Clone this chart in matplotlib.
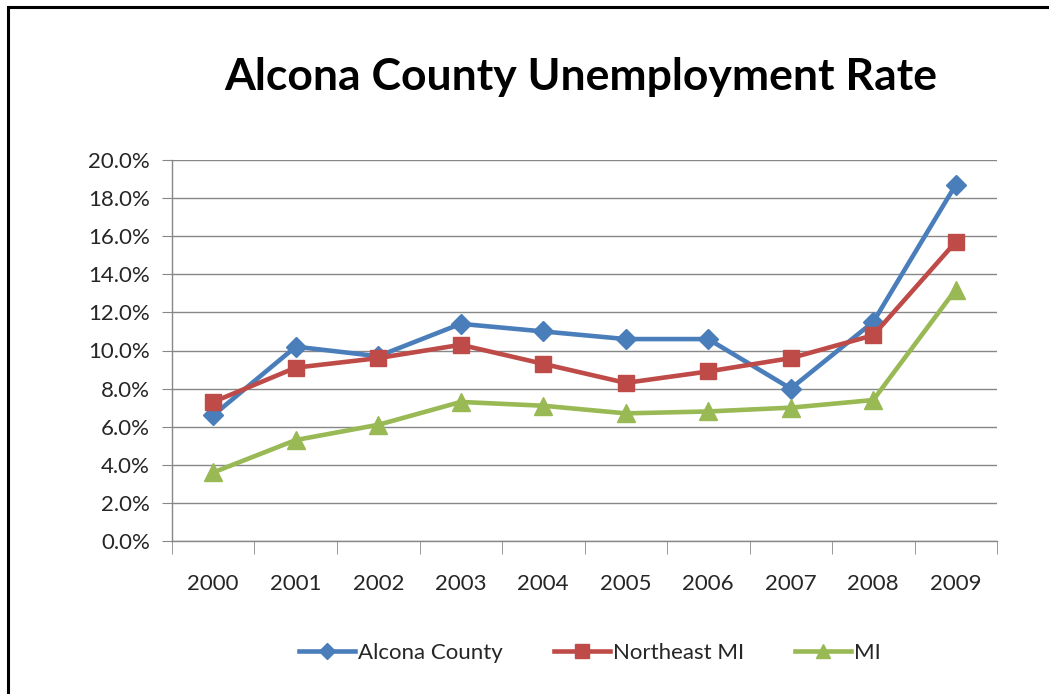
import matplotlib
matplotlib.use("Agg")
import matplotlib.pyplot as plt
from matplotlib.patches import Rectangle
from matplotlib.ticker import FuncFormatter, MultipleLocator

plt.rcParams['font.family'] = ['Lato', 'DejaVu Sans']

years = ["2000", "2001", "2002", "2003", "2004", "2005", "2006", "2007", "2008", "2009"]
alcona = [6.6, 10.2, 9.7, 11.4, 11.0, 10.6, 10.6, 8.0, 11.5, 18.7]
northeast = [7.3, 9.1, 9.6, 10.3, 9.3, 8.3, 8.9, 9.6, 10.8, 15.7]
michigan = [3.6, 5.3, 6.1, 7.3, 7.1, 6.7, 6.8, 7.0, 7.4, 13.2]

fig = plt.figure(figsize=(10.49, 6.94), dpi=100)
ax = fig.add_axes([172 / 1049, 1 - 541 / 694, 825 / 1049, 381 / 694])

x = list(range(len(years)))
lw = 3.3
ax.plot(x, alcona, color="#4A7EBB", lw=lw, marker="D", ms=10.5, label="Alcona County", zorder=3)
ax.plot(x, northeast, color="#BE4B48", lw=lw, marker="s", ms=12, label="Northeast MI", zorder=3)
ax.plot(x, michigan, color="#98B954", lw=lw, marker="^", ms=13, label="MI", zorder=3)

ax.set_xlim(-0.5, len(years) - 0.5)
ax.set_ylim(0, 20)
ax.yaxis.set_major_locator(MultipleLocator(2))
ax.yaxis.set_major_formatter(FuncFormatter(lambda v, p: f"{v:.1f}%"))
ax.set_xticks(x)
ax.set_xticklabels(years)
ax.set_xticks([i - 0.5 for i in range(len(years) + 1)], minor=True)

ax.grid(axis="y", color="#878787", lw=1.0)
ax.set_axisbelow(True)
for s in ["top", "right"]:
    ax.spines[s].set_visible(False)
for s in ["left", "bottom"]:
    ax.spines[s].set_color("#878787")
    ax.spines[s].set_linewidth(1.0)

ax.tick_params(axis="y", length=7, color="#878787", labelsize=16, labelcolor="#262626", pad=9)
ax.tick_params(axis="x", which="major", length=0, labelsize=16, labelcolor="#262626", pad=24)
ax.tick_params(axis="x", which="minor", length=9, color="#878787", direction="out")

fig.text(581 / 1049, 1 - 77 / 694, "Alcona County Unemployment Rate",
         ha="center", va="center", fontsize=32, fontweight="bold", color="black")

leg = fig.legend(loc="center", bbox_to_anchor=(590 / 1049, 1 - 653 / 694), ncol=3,
                 frameon=False, fontsize=16, handlelength=2.5, handletextpad=0.15,
                 columnspacing=2.3, markerscale=0.8)
for t in leg.get_texts():
    t.set_color("#262626")

fig.add_artist(Rectangle((8 / 1049, -0.1), 1.2, 0.1 + 1 - 7 / 694, transform=fig.transFigure,
                         fill=False, edgecolor="black", lw=2.2))

fig.savefig("out.png", dpi=100, facecolor="white")
